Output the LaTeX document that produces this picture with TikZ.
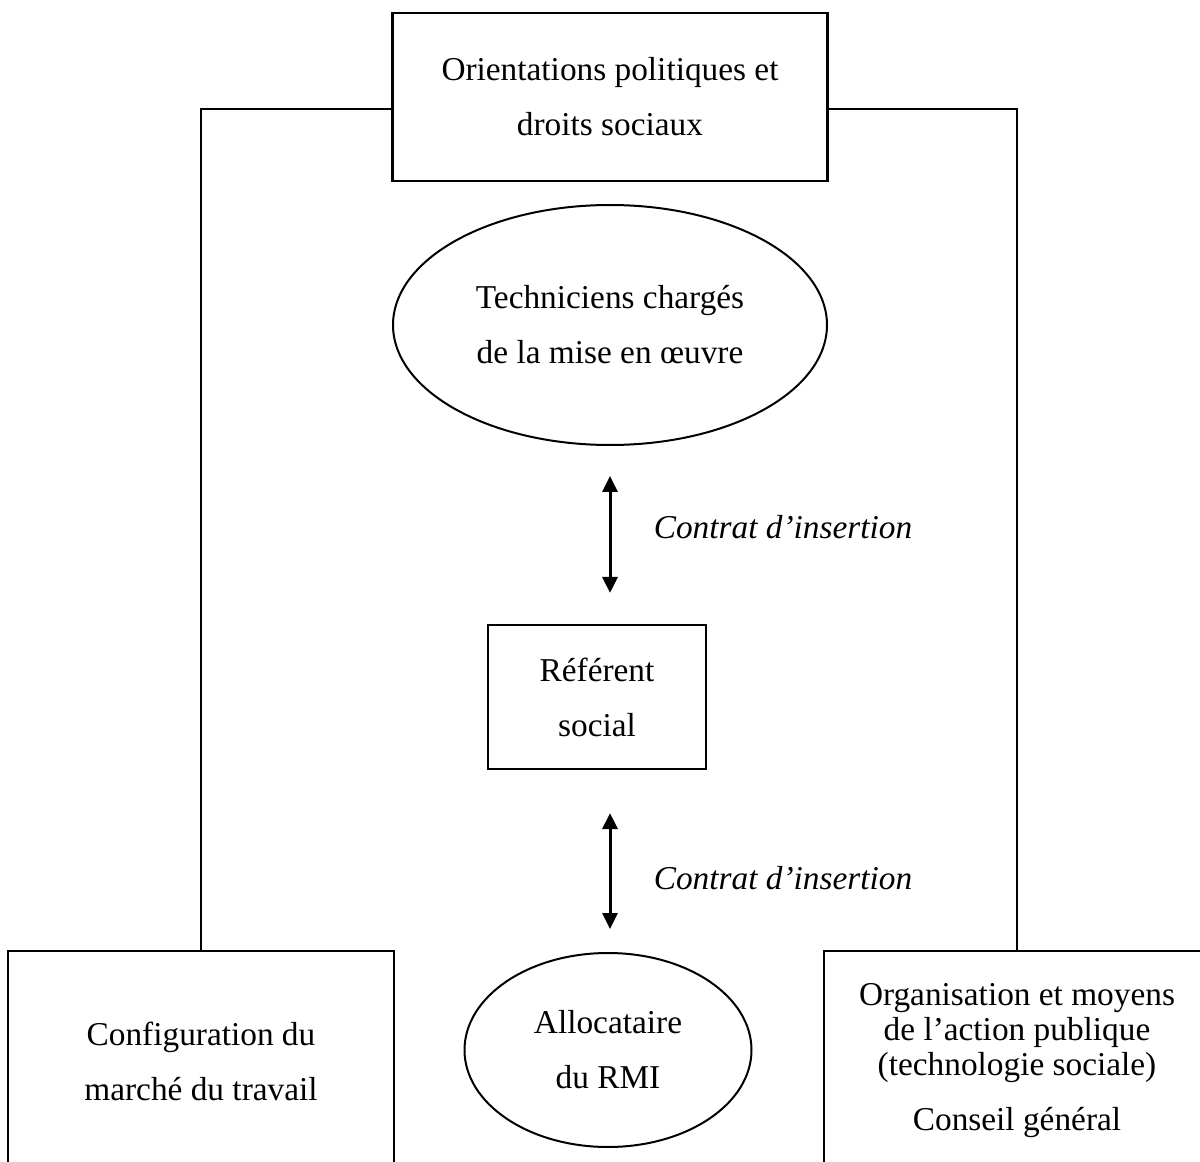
\documentclass[tikz,border=0pt]{standalone}
\usepackage{fontspec}
\setmainfont{Liberation Serif}
\usetikzlibrary{shapes,arrows.meta}

\begin{document}
\begin{tikzpicture}[x=0.3pt,y=-0.3pt]
	\tikzset{every node/.style={font=\fontsize{10}{16.5}\selectfont,align=center,inner sep=0pt}}
	\tikzset{boite/.style={draw,line width=0.65pt,rectangle}}
	\tikzset{bulle/.style={draw,line width=0.6pt,ellipse}}
	\tikzset{fleche/.style={{Triangle[width=4.5pt,length=4.8pt]}-{Triangle[width=4.5pt,length=4.8pt]},line width=0.9pt}}
	\useasboundingbox (0,0) rectangle (1200,1162);
	\clip (0,0) rectangle (1200,1162);
	\node[boite,minimum width=130.5pt,minimum height=50.4pt] (orient) at (610,97) {Orientations politiques et\\droits sociaux};
	\node[bulle,minimum width=130.2pt,minimum height=72pt] (tech) at (610,325) {Techniciens chargés\\de la mise en œuvre};
	\node[boite,minimum width=65.4pt,minimum height=43.2pt] (ref) at (597,697) {Référent\\social};
	\node[bulle,minimum width=86.1pt,minimum height=58.2pt] (rmi) at (608,1050) {Allocataire\\du RMI};
	\node[boite,minimum width=115.8pt,minimum height=66pt] (marche) at (201,1061) {Configuration du\\marché du travail};
	\node[boite,minimum width=115.8pt,minimum height=66pt,font=\fontsize{10}{10.5}\selectfont] (conseil) at (1017,1061) {Organisation et moyens\\de l’action publique\\(technologie sociale)\\[6pt]Conseil général};
	\node[font=\fontsize{10}{12}\selectfont\itshape] (contrat1) at (783,527) {Contrat d’insertion};
	\node[font=\fontsize{10}{12}\selectfont\itshape] (contrat2) at (783,878) {Contrat d’insertion};
	% liaisons
	\draw[line width=0.65pt] ([yshift=-3.6pt]orient.west) -| (marche.north);
	\draw[line width=0.65pt] ([yshift=-3.6pt]orient.east) -| (conseil.north);
	\draw[fleche,shorten <=9pt,shorten >=9.3pt] (tech.south) -- (tech.south |- ref.north);
	\draw[fleche,shorten <=12.9pt,shorten >=6.9pt] (tech.south |- ref.south) -- (tech.south |- rmi.north);
\end{tikzpicture}
\end{document}
